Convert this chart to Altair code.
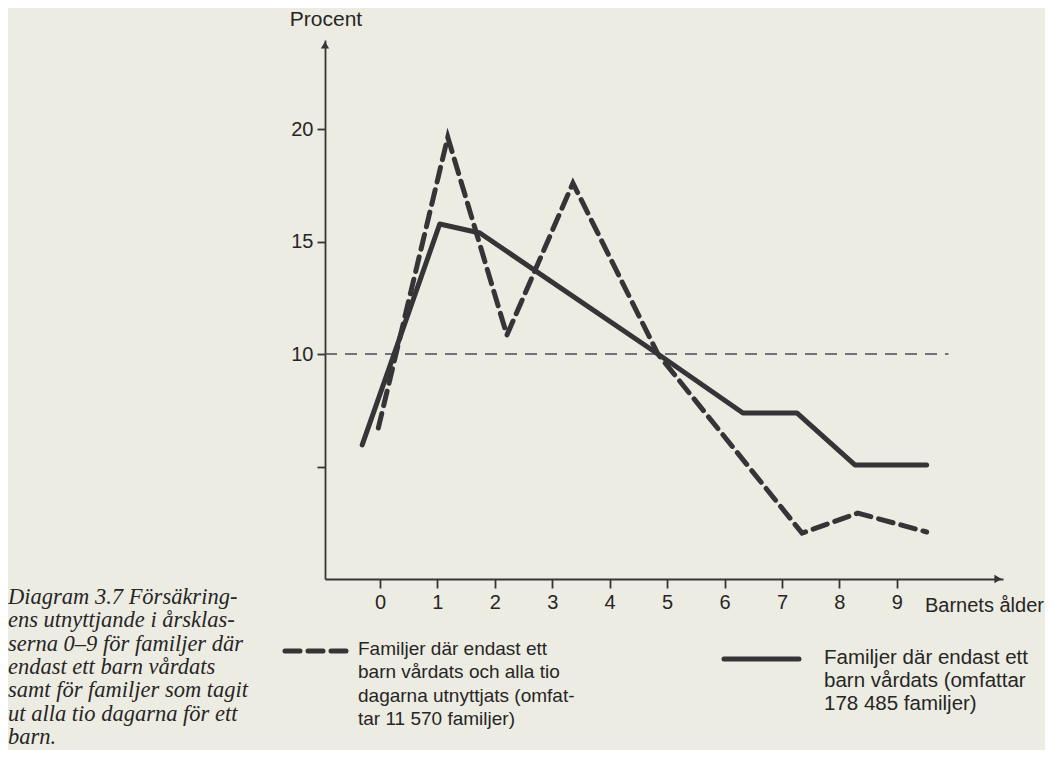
import altair as alt
import pandas as pd

# ---- data ----
ages_solid = [-0.31, 1.04, 1.74, 4.84, 6.32, 7.26, 8.27, 9.52]
pct_solid = [5.96, 15.78, 15.38, 10.0, 7.38, 7.38, 5.07, 5.07]
ages_dashed = [-0.03, 1.18, 2.21, 3.36, 4.84, 7.35, 8.32, 9.52]
pct_dashed = [6.71, 19.64, 10.84, 17.6, 10.0, 2.04, 2.93, 2.09]
x_ticks = [0, 1, 2, 3, 4, 5, 6, 7, 8, 9]
y_ticks = [5, 10, 15, 20]
ref_x = [-0.958, 9.9]
ref_y = [10, 10]

y_title = "Procent"
x_title = "Barnets ålder"
caption_lines = [
    "Diagram 3.7  Försäkring-",
    "ens utnyttjande i årsklas-",
    "serna 0–9 för familjer där",
    "endast ett barn vårdats",
    "samt för familjer som tagit",
    "ut alla tio dagarna för ett",
    "barn.",
]
legend_dashed_lines = [
    "Familjer där endast ett",
    "barn vårdats och alla tio",
    "dagarna utnyttjats (omfat-",
    "tar 11 570 familjer)",
]
legend_solid_lines = [
    "Familjer där endast ett",
    "barn vårdats (omfattar",
    "178 485 familjer)",
]

INK = "#353537"
TEXT = "#262626"
BG = "#edece2"
SANS = "Liberation Sans"
SERIF = "Liberation Serif"

xscale = alt.Scale(domain=[-0.958, 10.85], nice=False, zero=False)
yscale = alt.Scale(domain=[0, 23.96], nice=False, zero=False)

solid_df = pd.DataFrame({"age": ages_solid, "pct": pct_solid})
dashed_df = pd.DataFrame({"age": ages_dashed, "pct": pct_dashed})
ref_df = pd.DataFrame({"age": ref_x, "pct": ref_y})

x_axis = alt.Axis(values=x_ticks, title=None, tickSize=9, labelPadding=4,
                  grid=False, format="d")
y_axis = alt.Axis(values=y_ticks, title=None, tickSize=8, labelPadding=4,
                  grid=False,
                  labelExpr="datum.value == 5 ? '' : datum.label")

base_axes = alt.Chart(ref_df).mark_line(
    strokeDash=[12, 8], strokeWidth=1.4, color="#4a4a55"
).encode(
    x=alt.X("age:Q", scale=xscale, axis=x_axis),
    y=alt.Y("pct:Q", scale=yscale, axis=y_axis),
)

solid = alt.Chart(solid_df).mark_line(
    strokeWidth=5, color=INK, strokeJoin="round", strokeCap="round"
).encode(x=alt.X("age:Q", scale=xscale), y=alt.Y("pct:Q", scale=yscale))

dashed = alt.Chart(dashed_df).mark_line(
    strokeWidth=5, color=INK, strokeDash=[15, 8], strokeCap="round"
).encode(x=alt.X("age:Q", scale=xscale), y=alt.Y("pct:Q", scale=yscale))

# axis arrows
arrow_up = alt.Chart(pd.DataFrame({"a": [0]})).mark_point(
    shape="triangle-up", filled=True, size=70, color=INK, opacity=1
).encode(x=alt.value(0), y=alt.value(5))
arrow_right = alt.Chart(pd.DataFrame({"a": [0]})).mark_point(
    shape="triangle-right", filled=True, size=70, color=INK, opacity=1
).encode(x=alt.value(673), y=alt.value(539))

def text_block(lines, x, y, font, size, lh, style="normal", align="left"):
    df = pd.DataFrame({"t": ["\n".join(lines)]})
    return alt.Chart(df).mark_text(
        lineBreak="\n", lineHeight=lh, align=align, baseline="top",
        font=font, fontSize=size, fontStyle=style, color=TEXT
    ).encode(text="t:N", x=alt.value(x), y=alt.value(y))

ytitle = text_block([y_title], 1, -31, SANS, 21, 24, align="center")
xtitle = text_block([x_title], 600, 556, SANS, 20, 24)
caption = text_block(caption_lines, -317, 546, SERIF, 22.5, 23.3, style="italic")
leg_d_text = text_block(legend_dashed_lines, 33, 600, SANS, 19, 23.3)
leg_s_text = text_block(legend_solid_lines, 499, 608, SANS, 20.5, 23)

leg_d_line = alt.Chart(pd.DataFrame({"a": [0]})).mark_rule(
    strokeWidth=5, color=INK, strokeDash=[15, 8], strokeCap="round"
).encode(x=alt.value(-40), x2=alt.value(24), y=alt.value(611))
leg_s_line = alt.Chart(pd.DataFrame({"a": [0]})).mark_rule(
    strokeWidth=5, color=INK, strokeCap="round"
).encode(x=alt.value(399), x2=alt.value(474), y=alt.value(619))

chart = alt.layer(
    base_axes, dashed, solid, arrow_up, arrow_right,
    ytitle, xtitle, caption, leg_d_text, leg_s_text, leg_d_line, leg_s_line,
).properties(
    width=678, height=539,
    autosize=alt.AutoSizeParams(type="none"),
    padding={"left": 317, "top": 32, "right": 42, "bottom": 171},
).configure(
    background=BG,
).configure_view(
    stroke=None,
).configure_axis(
    domainColor=INK, domainWidth=1.8, tickColor=INK, tickWidth=1.8,
    labelFont=SANS, labelFontSize=20, labelColor=TEXT,
)

chart.save("out.html", embed_options={"renderer": "svg", "actions": False})
